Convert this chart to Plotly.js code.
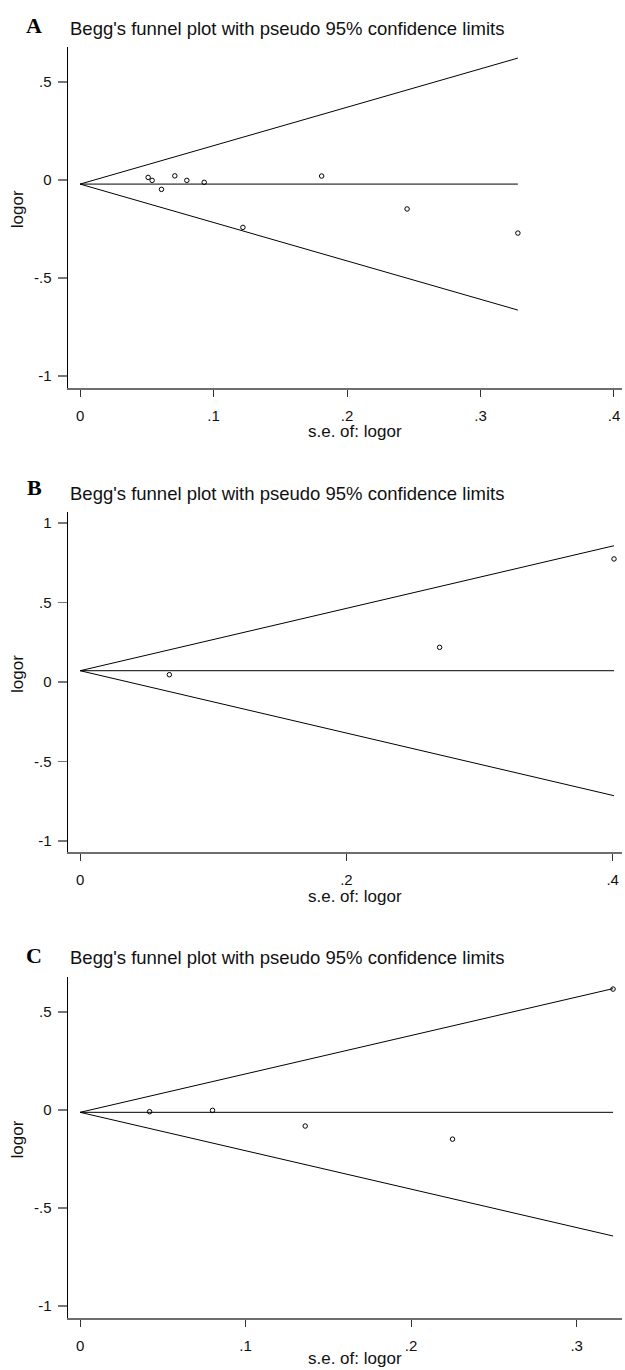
<!DOCTYPE html>
<html>
<head>
<meta charset="utf-8">
<script src="https://cdn.plot.ly/plotly-3.0.1.min.js"></script>
<style>html,body{margin:0;padding:0;background:#fff;}#chart{width:625px;height:1370px;}</style>
</head>
<body>
<div id="chart"></div>
<script>
// ---------- data ----------
const panelLabels = ["A", "B", "C"];
const chartTitle = "Begg's funnel plot with pseudo 95% confidence limits";
const xTitle = "s.e. of: logor";
const yTitle = "logor";

// Panel A
const seA = [0.051, 0.054, 0.061, 0.071, 0.080, 0.093, 0.122, 0.181, 0.245, 0.328];
const logorA = [0.012, -0.003, -0.049, 0.020, -0.003, -0.013, -0.243, 0.019, -0.149, -0.272];
const pooledA = -0.022;
const xTickValsA = [0, 0.1, 0.2, 0.3, 0.4];
const xTickTextA = ["0", ".1", ".2", ".3", ".4"];
const yTickValsA = [-1, -0.5, 0, 0.5];
const yTickTextA = ["-1", "-.5", "0", ".5"];

// Panel B
const seB = [0.067, 0.270, 0.401];
const logorB = [0.046, 0.218, 0.774];
const pooledB = 0.071;
const xTickValsB = [0, 0.2, 0.4];
const xTickTextB = ["0", ".2", ".4"];
const yTickValsB = [-1, -0.5, 0, 0.5, 1];
const yTickTextB = ["-1", "-.5", "0", ".5", "1"];

// Panel C
const seC = [0.042, 0.080, 0.136, 0.225, 0.322];
const logorC = [-0.010, -0.003, -0.083, -0.150, 0.616];
const pooledC = -0.013;
const xTickValsC = [0, 0.1, 0.2, 0.3];
const xTickTextC = ["0", ".1", ".2", ".3"];
const yTickValsC = [-1, -0.5, 0, 0.5];
const yTickTextC = ["-1", "-.5", "0", ".5"];

const Z = 1.96; // pseudo 95% limits

// ---------- layout geometry (pixels) ----------
const W = 625, H = 1370;
const px = x => x / W;
const py = y => 1 - y / H;
const plotLeft = 67.5, plotRight = 622;
const panels = [
  {se: seA, lo: logorA, pooled: pooledA, xr: [-0.0094, 0.406], yr: [-1.061, 0.679],
   xtv: xTickValsA, xtt: xTickTextA, ytv: yTickValsA, ytt: yTickTextA,
   top: 46.7, bottom: 387.7, labelY: 25, titleY: 28.5, xTitleY: 431},
  {se: seB, lo: logorB, pooled: pooledB, xr: [-0.0095, 0.407], yr: [-1.071, 1.071],
   xtv: xTickValsB, xtt: xTickTextB, ytv: yTickValsB, ytt: yTickTextB,
   top: 511.7, bottom: 852.3, labelY: 488, titleY: 493.3, xTitleY: 896},
  {se: seC, lo: logorC, pooled: pooledC, xr: [-0.0076, 0.3274], yr: [-1.064, 0.679],
   xtv: xTickValsC, xtt: xTickTextC, ytv: yTickValsC, ytt: yTickTextC,
   top: 976.7, bottom: 1318.3, labelY: 955, titleY: 957.3, xTitleY: 1358.5}
];

const FONT = "Liberation Sans, Arial, Helvetica, sans-serif";
const traces = [];
const layout = {
  width: W, height: H,
  margin: {l: 0, r: 0, t: 0, b: 0},
  paper_bgcolor: "#fff", plot_bgcolor: "#fff",
  showlegend: false,
  font: {family: FONT, color: "#111"},
  annotations: []
};

panels.forEach((p, i) => {
  const n = i === 0 ? "" : String(i + 1);
  const xa = "x" + n, ya = "y" + n;
  const seMax = Math.max(...p.se);
  const lineX = [0, seMax];
  const lineStyle = {color: "#000", width: 1};
  traces.push({x: lineX, y: lineX.map(s => p.pooled + Z * s), xaxis: xa, yaxis: ya,
               mode: "lines", line: lineStyle, hoverinfo: "skip"});
  traces.push({x: lineX, y: lineX.map(s => p.pooled - Z * s), xaxis: xa, yaxis: ya,
               mode: "lines", line: lineStyle, hoverinfo: "skip"});
  traces.push({x: lineX, y: lineX.map(() => p.pooled), xaxis: xa, yaxis: ya,
               mode: "lines", line: lineStyle, hoverinfo: "skip"});
  traces.push({x: p.se, y: p.lo, xaxis: xa, yaxis: ya, mode: "markers",
               marker: {symbol: "circle-open", size: 4.5, color: "#000", line: {width: 1, color: "#000"}}});

  layout["xaxis" + n] = {
    domain: [px(plotLeft), px(plotRight)], anchor: ya, range: p.xr,
    tickmode: "array", tickvals: p.xtv, ticktext: p.xtt,
    ticks: "outside", ticklen: 7, tickwidth: 1, tickcolor: "#333",
    showline: true, linecolor: "#6e6e6e", linewidth: 2,
    showgrid: false, zeroline: false, fixedrange: true,
    tickfont: {family: FONT, size: 15, color: "#111"}, ticklabelstandoff: 6
  };
  layout["yaxis" + n] = {
    domain: [py(p.bottom), py(p.top)], anchor: xa, range: p.yr,
    tickmode: "array", tickvals: p.ytv, ticktext: p.ytt,
    ticks: "outside", ticklen: 9, tickwidth: 1.5, tickcolor: "#777",
    showline: true, linecolor: "#000", linewidth: 1,
    showgrid: false, zeroline: false, fixedrange: true,
    tickfont: {family: FONT, size: 15, color: "#111"}, ticklabelstandoff: 3
  };

  layout.annotations.push({
    text: "<b>" + panelLabels[i] + "</b>", xref: "paper", yref: "paper",
    x: px(34), y: py(p.labelY), xanchor: "center", yanchor: "middle", showarrow: false,
    font: {family: "Liberation Serif, Times New Roman, serif", size: 22, color: "#000"}
  });
  layout.annotations.push({
    text: chartTitle, xref: "paper", yref: "paper",
    x: px(plotLeft), y: py(p.titleY), xanchor: "left", yanchor: "middle", showarrow: false,
    font: {family: FONT, size: 18.5, color: "#111"}
  });
  layout.annotations.push({
    text: xTitle, xref: "paper", yref: "paper",
    x: px(355), y: py(p.xTitleY), xanchor: "center", yanchor: "middle", showarrow: false,
    font: {family: FONT, size: 17, color: "#111"}
  });
  layout.annotations.push({
    text: yTitle, xref: "paper", yref: "paper", textangle: -90,
    x: px(17), y: py((p.top + p.bottom) / 2 - 8), xanchor: "center", yanchor: "middle", showarrow: false,
    font: {family: FONT, size: 17, color: "#111"}
  });
});

Plotly.newPlot("chart", traces, layout, {staticPlot: true, displayModeBar: false});
</script>
</body>
</html>
